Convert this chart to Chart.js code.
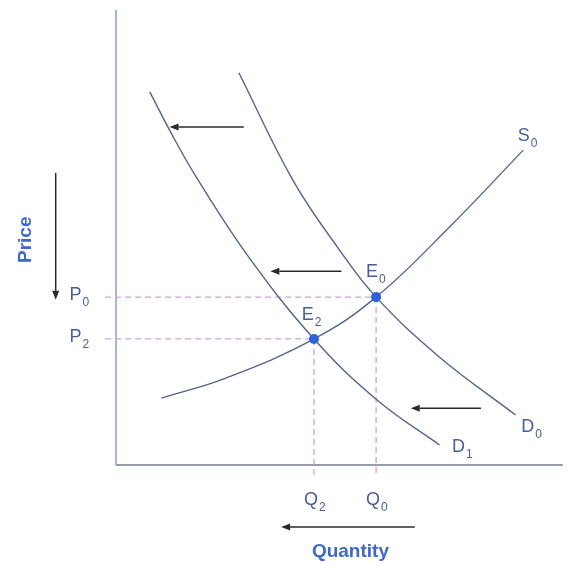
<!DOCTYPE html>
<html><head><meta charset="utf-8">
<script src="https://cdn.jsdelivr.net/npm/chart.js@4/dist/chart.umd.min.js"></script>
<style>html,body{margin:0;padding:0;background:#fff}#wrap{width:571px;height:565px}</style>
</head><body><div id="wrap"><canvas id="c" width="571" height="565"></canvas></div>
<script>
// Demand D0
const d0Quantity=[27.3,39.3,49.2,57.8,71.9,88.8];
const d0Price=[86.2,62.6,47.9,36.9,23.7,11.0];
// Demand D1
const d1Quantity=[7.5,13.0,18.5,29.5,44.0,58.0,71.9];
const d1Price=[82.0,71.6,62.2,45.7,27.7,14.3,4.4];
// Supply S0
const s0Quantity=[10.1,24.4,44.0,57.8,74.5,90.5];
const s0Price=[14.7,19.1,27.7,36.9,52.7,69.2];
// Equilibria
const eqNames=['E0','E2'];
const eqQuantity=[57.8,44.0];
const eqPrice=[36.9,27.7];

// annotations (data units)
const labels=[
 {main:'P',sub:'0',x:-10.1,y:36.3},
 {main:'P',sub:'2',x:-10.1,y:27.1},
 {main:'E',sub:'0',x:55.8,y:41.3},
 {main:'E',sub:'2',x:41.5,y:31.9},
 {main:'Q',sub:'2',x:42.0,y:-8.8},
 {main:'Q',sub:'0',x:55.8,y:-8.8},
 {main:'D',sub:'0',x:90.3,y:7.3},
 {main:'D',sub:'1',x:74.9,y:2.9},
 {main:'S',sub:'0',x:89.5,y:71.2}
];
const arrows=[
 {from:[28.4,74.3],to:[11.9,74.3]},
 {from:[50.1,42.6],to:[34.3,42.6]},
 {from:[81.1,12.5],to:[65.5,12.5]},
 {from:[-13.4,64.2],to:[-13.4,36.3]},
 {from:[66.4,-13.6],to:[36.7,-13.6]}
];
const axisTitles=[
 {text:'Price',x:-20.0,y:49.5,rot:-Math.PI/2},
 {text:'Quantity',x:52.1,y:-19.1,rot:0}
];

const pts=(xs,ys)=>xs.map((x,i)=>({x,y:ys[i]}));
const curveColor='#56648a';
const dashColor='#c9a3d9';

const datasets=[
 {data:pts(eqQuantity,eqPrice),showLine:false,pointRadius:5,pointBackgroundColor:'#2b62d8',pointBorderWidth:0,order:0},
 {data:pts(d0Quantity,d0Price),showLine:true,borderColor:curveColor,borderWidth:1.4,pointRadius:0,tension:0.4,order:1},
 {data:pts(d1Quantity,d1Price),showLine:true,borderColor:curveColor,borderWidth:1.4,pointRadius:0,tension:0.4,order:1},
 {data:pts(s0Quantity,s0Price),showLine:true,borderColor:curveColor,borderWidth:1.4,pointRadius:0,tension:0.4,order:1}
];
eqQuantity.forEach((q,i)=>{
 datasets.push({data:[{x:-2.4,y:eqPrice[i]},{x:q,y:eqPrice[i]}],showLine:true,borderColor:dashColor,borderWidth:1.3,borderDash:[6,4],pointRadius:0,tension:0,order:2});
 datasets.push({data:[{x:q,y:eqPrice[i]},{x:q,y:-2.2}],showLine:true,borderColor:dashColor,borderWidth:1.3,borderDash:[6,4],pointRadius:0,tension:0,order:2});
});
datasets.push({data:[{x:0,y:0},{x:0,y:100}],showLine:true,borderColor:'#8d9ad3',borderWidth:1.5,pointRadius:0,tension:0,order:3});
datasets.push({data:[{x:0,y:0},{x:99.3,y:0}],showLine:true,borderColor:'#737b8e',borderWidth:1.5,pointRadius:0,tension:0,order:3});
datasets.forEach(d=>{d.clip=false;});

const annot={
 id:'annot',
 afterDraw(chart){
  const ctx=chart.ctx, xs=chart.scales.x, ys=chart.scales.y;
  const X=v=>xs.getPixelForValue(v), Y=v=>ys.getPixelForValue(v);
  ctx.save();
  ctx.strokeStyle='#2a2a2a';ctx.fillStyle='#2a2a2a';ctx.lineWidth=1.5;
  arrows.forEach(a=>{
   const x1=X(a.from[0]),y1=Y(a.from[1]),x2=X(a.to[0]),y2=Y(a.to[1]);
   const ang=Math.atan2(y2-y1,x2-x1),L=9,W=3.5;
   const bx=x2-L*Math.cos(ang),by=y2-L*Math.sin(ang);
   ctx.beginPath();ctx.moveTo(x1,y1);ctx.lineTo(bx,by);ctx.stroke();
   ctx.beginPath();ctx.moveTo(x2,y2);
   ctx.lineTo(bx+W*Math.sin(ang),by-W*Math.cos(ang));
   ctx.lineTo(bx-W*Math.sin(ang),by+W*Math.cos(ang));
   ctx.closePath();ctx.fill();
  });
  ctx.fillStyle='#4a5d96';ctx.textBaseline='alphabetic';ctx.textAlign='left';
  labels.forEach(l=>{
   ctx.font='18px "Liberation Sans", Arial, sans-serif';
   const px=X(l.x)-1,py=Y(l.y);
   ctx.fillText(l.main,px,py);
   const w=ctx.measureText(l.main).width;
   ctx.font='12px "Liberation Sans", Arial, sans-serif';
   ctx.fillText(l.sub,px+w+1,py+6);
  });
  ctx.fillStyle='#3d68cc';ctx.textAlign='center';ctx.textBaseline='middle';
  ctx.font='bold 19px "Liberation Sans", Arial, sans-serif';
  axisTitles.forEach(t=>{
   ctx.save();ctx.translate(X(t.x),Y(t.y));ctx.rotate(t.rot);ctx.fillText(t.text,0,0);ctx.restore();
  });
  ctx.restore();
 }
};

new Chart(document.getElementById('c'),{
 type:'scatter',
 data:{datasets},
 options:{
  responsive:false,animation:false,
  layout:{padding:{left:116,right:0,top:10,bottom:100}},
  scales:{
   x:{type:'linear',min:0,max:100,display:false},
   y:{type:'linear',min:0,max:100,display:false}
  },
  plugins:{legend:{display:false},tooltip:{enabled:false}}
 },
 plugins:[annot]
});
</script>
</body></html>
